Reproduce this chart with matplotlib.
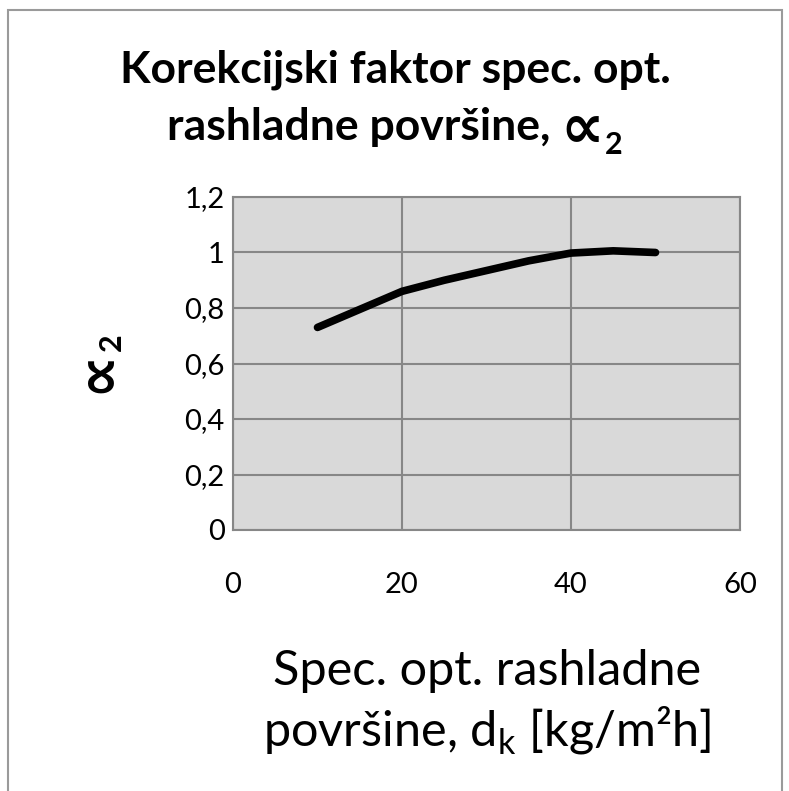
import matplotlib
matplotlib.use("Agg")
import matplotlib.pyplot as plt
from matplotlib.patches import Rectangle
from matplotlib.ticker import FixedLocator, FuncFormatter

plt.rcParams["font.family"] = ["Lato", "DejaVu Sans"]
plt.rcParams["mathtext.fontset"] = "custom"
plt.rcParams["mathtext.rm"] = "Lato"

# values
dk = [10, 15, 20, 25, 30, 35, 40, 45, 50]
alpha2 = [0.73, 0.795, 0.86, 0.90, 0.935, 0.97, 0.998, 1.006, 1.0]

x_ticks = [0, 20, 40, 60]
y_ticks = [0, 0.2, 0.4, 0.6, 0.8, 1.0, 1.2]

W, H = 789, 791
GRID = "#878787"
FAM = ["Lato", "DejaVu Sans"]

fig = plt.figure(figsize=(W / 100, H / 100), dpi=100)
fig.patches.append(Rectangle((8 / W, -0.02), 774 / W, 1.0 - 10 / H + 0.02,
                             transform=fig.transFigure, fill=False,
                             edgecolor="#9a9a9a", linewidth=1.5))

ax = fig.add_axes([233 / W, 1 - 530 / H, 507 / W, 333 / H])
ax.set_facecolor("#d9d9d9")
ax.plot(dk, alpha2, color="black", linewidth=5.5, solid_capstyle="round", zorder=3)

ax.set_xlim(0, 60)
ax.set_ylim(0, 1.2)
ax.xaxis.set_major_locator(FixedLocator(x_ticks))
ax.yaxis.set_major_locator(FixedLocator(y_ticks))


def comma_fmt(v, pos):
    s = f"{v:.1f}".rstrip("0").rstrip(".")
    return s.replace(".", ",")


ax.yaxis.set_major_formatter(FuncFormatter(comma_fmt))
ax.grid(True, color=GRID, linewidth=1.5)
ax.set_axisbelow(True)
for sp in ax.spines.values():
    sp.set_color(GRID)
    sp.set_linewidth(1.5)
ax.tick_params(axis="both", length=0, labelsize=21, colors="black")
ax.tick_params(axis="x", pad=30)
ax.tick_params(axis="y", pad=6)

renderer = fig.canvas.get_renderer()

# title; the DejaVu proportional sign sits on the math axis, so drop it onto the baseline
fig.text(395 / W, 1 - 82 / H, "Korekcijski faktor spec. opt.", ha="center", va="baseline",
         fontsize=32, fontweight="bold", family=FAM)
parts = [
    (fig.text(0, 1 - 140 / H, "rashladne površine,", ha="left", va="baseline",
              fontsize=32, fontweight="bold", family=FAM), 10),
    (fig.text(0, 1 - 147 / H, "∝", ha="left", va="baseline",
              fontsize=44, fontweight="bold", family="DejaVu Sans"), 1),
    (fig.text(0, 1 - 154 / H, "2", ha="left", va="baseline",
              fontsize=22, fontweight="bold", family=FAM), 0),
]
widths = [t.get_window_extent(renderer).width + g for t, g in parts]
x = 395 - sum(widths) / 2
for (t, g), w in zip(parts, widths):
    t.set_x(x / W)
    x += w

# y label
fig.text(114 / W, 1 - 393 / H, "∝", rotation=90, rotation_mode="anchor", ha="left",
         va="baseline", fontsize=44, fontweight="bold", family="DejaVu Sans")
fig.text(121 / W, 1 - 351 / H, "2", rotation=90, rotation_mode="anchor", ha="left",
         va="baseline", fontsize=22, fontweight="bold", family=FAM)

# x label
fig.text(487 / W, 1 - 685 / H, "Spec. opt. rashladne", ha="center", va="baseline",
         fontsize=35, family=FAM)
fig.text(487 / W, 1 - 745 / H, r"površine, d$_\mathregular{k}$ [kg/m²h]", ha="center",
         va="baseline", fontsize=35, family=FAM)

fig.savefig("out.png", dpi=100)
